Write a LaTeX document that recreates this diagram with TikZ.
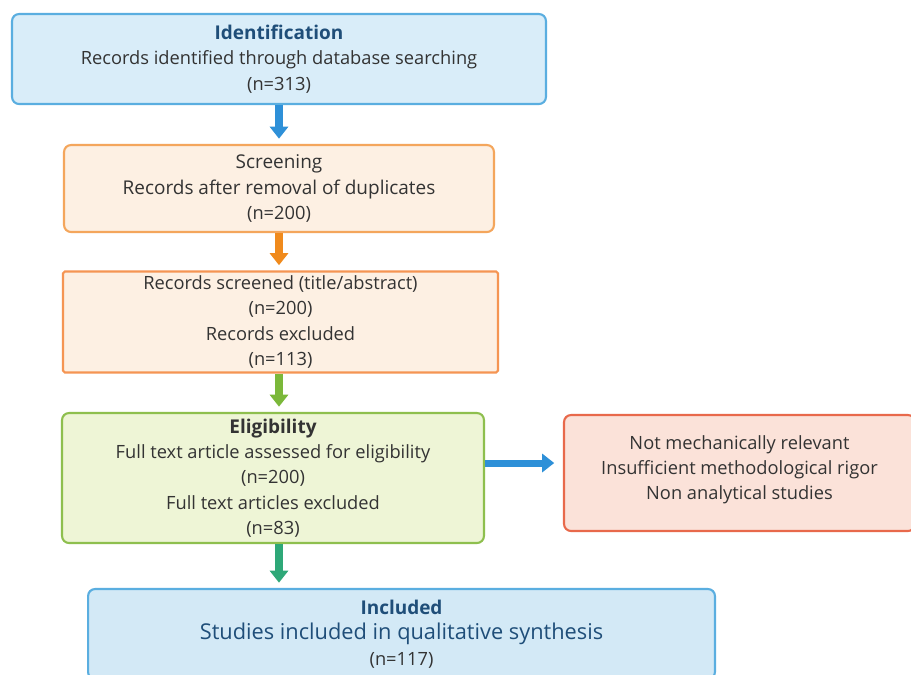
\documentclass[tikz,border=0pt]{standalone}
\usepackage{fontspec}
\setmainfont{Open Sans}
\usetikzlibrary{arrows.meta,calc}

\definecolor{idfill}{HTML}{D9EDF9}
\definecolor{idline}{HTML}{5AAEE0}
\definecolor{scrfill}{HTML}{FDF0E3}
\definecolor{scrline}{HTML}{F4A65C}
\definecolor{eligfill}{HTML}{EEF5D6}
\definecolor{eligline}{HTML}{8EBF4E}
\definecolor{exclfill}{HTML}{FBE2D9}
\definecolor{exclline}{HTML}{E8694B}
\definecolor{incfill}{HTML}{D3E9F6}
\definecolor{titleblue}{HTML}{1F4E79}
\definecolor{textgray}{HTML}{333333}
\definecolor{arrblue}{HTML}{2E90D8}
\definecolor{arrorange}{HTML}{F08A1C}
\definecolor{arrgreen}{HTML}{7BB83A}
\definecolor{arrteal}{HTML}{2EA878}

\begin{document}
\begin{tikzpicture}[x=0.02cm, y=-0.02cm,
  box/.style={draw, rounded corners=4pt, line width=1.2pt, align=center,
    text=textgray, inner sep=0pt,
    font=\fontsize{10.4}{14.4}\selectfont},
  flow/.style={line width=4pt, -{Triangle[width=0.36cm,length=0.24cm]},
    shorten >=3pt}]
  \clip (0,0) rectangle (911,674);
  \fill[white] (0,0) rectangle (911,674);

  % Identification
  \node[box, fill=idfill, draw=idline, minimum width=10.68cm,
    minimum height=1.8cm] (id) at (279,59)
    {{\color{titleblue}\fontsize{10.8}{14.4}\selectfont\bfseries Identification}\\
     Records identified through database searching\\ (n=313)};

  % Screening
  \node[box, fill=scrfill, draw=scrline, minimum width=8.6cm,
    minimum height=1.74cm] (scr) at (279,188.5)
    {{\fontsize{10.8}{14.4}\selectfont Screening}\\
     {\fontsize{10.8}{14.4}\selectfont Records after removal of duplicates}\\ (n=200)};

  \node[box, fill=scrfill, draw=scrline!90!red, rounded corners=1pt,
    minimum width=8.7cm, minimum height=2.02cm] (rec) at (280.5,322)
    {Records screened (title/abstract)\\ (n=200)\\ Records excluded\\ (n=113)};

  % Eligibility
  \node[box, fill=eligfill, draw=eligline, minimum width=8.44cm,
    minimum height=2.6cm] (elig) at (273,478)
    {{\fontsize{10.8}{14.4}\selectfont\bfseries Eligibility}\\
     Full text article assessed for eligibility\\
     (n=200)\\ Full text articles excluded\\ (n=83)};

  \node[box, fill=exclfill, draw=exclline, minimum width=7.02cm,
    minimum height=2.32cm, text depth=0.22cm] (excl) at (739.5,473)
    {Not mechanically relevant\\ Insufficient methodological rigor\\
     Non analytical studies};

  % Included
  \node[box, fill=incfill, draw=idline, text=titleblue,
    minimum width=12.54cm, minimum height=1.8cm] (inc) at (401.5,634)
    {{\fontsize{10.8}{14.4}\selectfont\bfseries Included}\\
     {\fontsize{12.4}{14.4}\selectfont Studies included in qualitative synthesis}\\
     {\color{textgray}(n=117)}};

  % Arrows
  \draw[flow, arrblue] (id.south -| scr.north) -- (scr.north);
  \draw[flow, arrorange] (scr.south) -- (scr.south |- rec.north);
  \draw[flow, arrgreen] (rec.south -| scr.south) -- (scr.south |- elig.north);
  \draw[flow, arrteal] (scr.south |- elig.south) -- (scr.south |- inc.north);
  \draw[flow, arrblue, shorten >=5pt] ([yshift=0.3cm]elig.east)
    -- ([yshift=0.3cm]elig.east -| excl.west);
\end{tikzpicture}
\end{document}
